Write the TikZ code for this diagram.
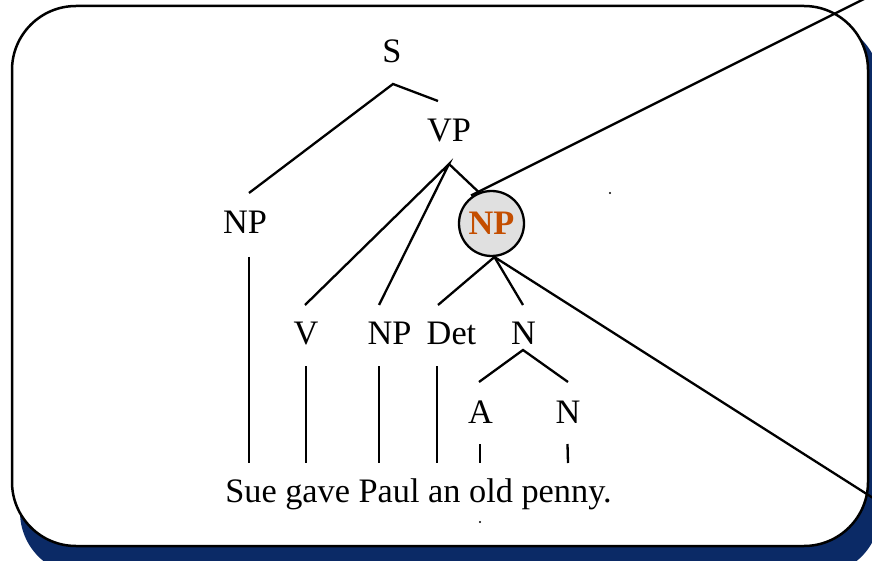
\documentclass[tikz,border=0pt]{standalone}
\usepackage{fontspec}
\setmainfont{Liberation Serif}
\newfontfamily\treefont{Liberation Serif}
\definecolor{shadownavy}{RGB}{11,42,102}
\definecolor{npfill}{RGB}{224,224,224}
\definecolor{nporange}{RGB}{196,78,0}
\begin{document}
\begin{tikzpicture}[x=1pt,y=-1pt,
  lbl/.style={anchor=base,inner sep=0pt,font=\treefont\fontsize{34.3}{40}\selectfont},
  branch/.style={line width=2.3pt},
  tick/.style={fill=black,circle,inner sep=0pt,minimum size=2.4pt}]
\useasboundingbox (0,0) rectangle (872,561);
\begin{scope}
\clip (0,0) rectangle (872,561);
% frame with drop shadow
\fill[shadownavy,rounded corners=63pt] (20,21) rectangle (880,575);
\draw[fill=white,line width=2.5pt,rounded corners=64pt] (12,6) rectangle (868,546);

% labels
\node[lbl] (S)   at (392,63)  {S};
\node[lbl] (VP)  at (449,142) {VP};
\node[lbl] (NP1) at (245,234) {NP};
\node[draw,line width=2.3pt,fill=npfill,circle,minimum size=65pt,inner sep=0pt,
      font=\treefont\fontsize{34.3}{40}\selectfont\bfseries,text=nporange] (NP2) at (491.5,223.5) {NP};
\node[lbl] (V)   at (306,344) {V};
\node[lbl] (NP3) at (389.5,344) {NP};
\node[lbl] (Det) at (451.5,344) {Det};
\node[lbl] (N1)  at (523.5,344) {N};
\node[lbl] (A)   at (480.5,423) {A};
\node[lbl] (N2)  at (568,423) {N};
\node[lbl] (sent) at (418.5,502) {Sue gave Paul an old penny.};

% branch end points
\coordinate (sTop)  at (393,84);
\coordinate (sL)    at (249,193);
\coordinate (sR)    at (438,101);
\coordinate (vpTop) at (449,164);
\coordinate (vV)    at (305,305);
\coordinate (vNP)   at (379,305);
\coordinate (npDet) at (438,305);
\coordinate (npN)   at (523,305);
\coordinate (nTop)  at (523,350);
\coordinate (nA)    at (479,382);
\coordinate (nN)    at (568,382);
\coordinate (zoomFoot) at (471,195.5);
\coordinate (zoomUp)   at (884,-11);
\coordinate (zoomDown) at (884,505);

% branches
\draw[branch] (sL) -- (sTop) -- (sR);
\draw[branch] (vV) -- (vpTop) -- (vNP);
\draw[branch] (vpTop) -- (NP2.112);
\draw[branch] (npDet) -- (NP2.-85) -- (npN);
\draw[branch] (nA) -- (nTop) -- (nN);

% zoom lines out of the circled NP
\draw[branch] (zoomFoot) -- (zoomUp);
\draw[branch] (NP2.-85) -- (zoomDown);

% lines down to the words
\draw[branch] (249,257) -- (249,463);
\draw[branch] (306,366) -- (306,463);
\draw[branch] (379,366) -- (379,463);
\draw[branch] (437,366) -- (437,463);
\draw[branch] (480,444) -- (480,463);
\draw[branch] (567.5,444) -- (568,463);

% stray dots
\node[tick] (d1) at (610,193) {};
\node[tick] (d2) at (480,522) {};
\end{scope}
\end{tikzpicture}
\end{document}
